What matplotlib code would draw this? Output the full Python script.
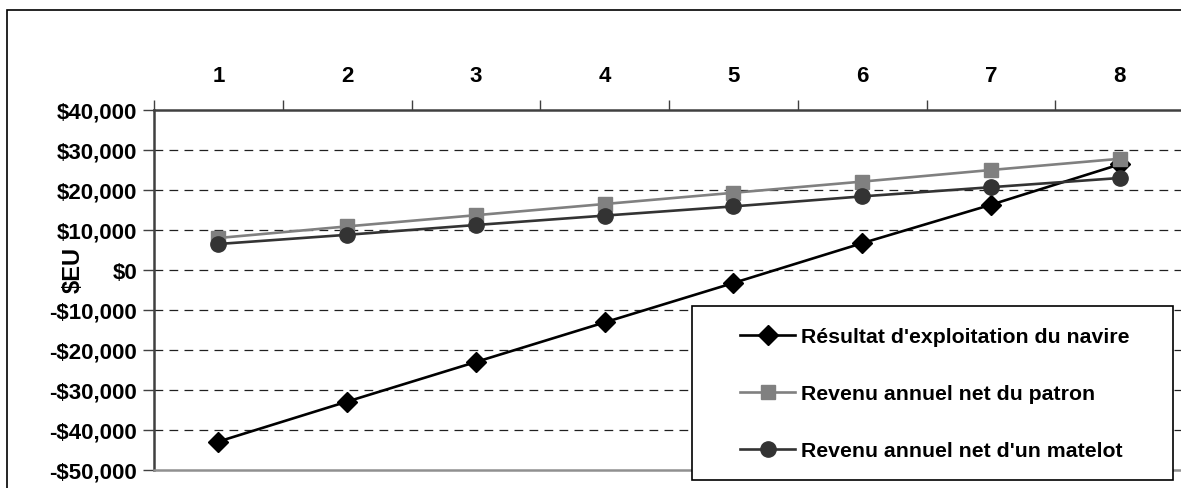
import matplotlib.pyplot as plt
from matplotlib.patches import Rectangle
from matplotlib.ticker import FuncFormatter

plt.rcParams['font.family'] = ['Liberation Sans', 'DejaVu Sans']
plt.rcParams['font.weight'] = 'bold'

# Données
annees = [1, 2, 3, 4, 5, 6, 7, 8]
resultat_navire = [-42900, -32900, -23000, -13100, -3250, 6700, 16300, 26400]
revenu_patron = [8000, 10900, 13700, 16500, 19300, 22100, 25000, 27800]
revenu_matelot = [6500, 8800, 11250, 13600, 15900, 18400, 20700, 23000]
labels = ["Résultat d'exploitation du navire",
          "Revenu annuel net du patron",
          "Revenu annuel net d'un matelot"]

W, H = 1181, 489
fig = plt.figure(figsize=(W / 100, H / 100), dpi=100)

# Zone de tracé (débordant à droite comme l'original recadré)
ax = fig.add_axes([154 / W, 1 - 471 / H, (1184 - 154) / W, (471 - 111) / H])

l1, = ax.plot(annees, resultat_navire, color='black', lw=1.9,
              marker='D', ms=10.5, mfc='black', mec='black', zorder=3)
l2, = ax.plot(annees, revenu_patron, color='#808080', lw=1.9,
              marker='s', ms=10.5, mfc='#808080', mec='#808080', zorder=4)
l3, = ax.plot(annees, revenu_matelot, color='#333333', lw=1.9,
              marker='o', ms=11, mfc='#333333', mec='#333333', zorder=5)

ax.set_xlim(0.5, 8.5)
ax.set_ylim(-50000, 40000)

# Axe X en haut
ax.xaxis.tick_top()
ax.set_xticks(annees)
ax.set_xticklabels([str(a) for a in annees])
ax.set_xticks([a - 0.5 for a in annees] + [8.5], minor=True)
ax.tick_params(axis='x', which='major', length=0, pad=17, labelsize=16)
ax.tick_params(axis='x', which='minor', length=7, width=1, color='#404040',
               direction='out', top=True, bottom=False)

# Axe Y
ax.set_yticks(range(-50000, 40001, 10000))
ax.yaxis.set_major_formatter(FuncFormatter(
    lambda v, p: ('-$' if v < 0 else '$') + f'{abs(v):,.0f}'))
ax.tick_params(axis='y', length=8, width=1, color='#404040', pad=4,
               labelsize=16)

for y in range(-40000, 40000, 10000):
    ax.axhline(y, color='#202020', lw=0.9, dashes=(7, 5), zorder=1)

ax.spines['top'].set_color('#404040')
ax.spines['top'].set_linewidth(1.8)
ax.spines['left'].set_color('#404040')
ax.spines['left'].set_linewidth(1.8)
ax.spines['bottom'].set_color('#909090')
ax.spines['bottom'].set_linewidth(1.8)
ax.spines['right'].set_visible(False)

fig.text(73 / W, 1 - 270 / H, '$EU', rotation=90, ha='center', va='center',
         fontsize=17, fontweight='bold')

# Cadre extérieur
fig.patches.append(Rectangle((7 / W, -0.1), 2, 1 - 11 / H + 0.1,
                             transform=fig.transFigure, fill=False,
                             edgecolor='black', lw=1.2, zorder=10))

# Légende
fig.patches.append(Rectangle((692 / W, 1 - 481 / H), (1173 - 692) / W,
                             (481 - 307) / H, transform=fig.transFigure,
                             facecolor='white', edgecolor='black', lw=1.2,
                             zorder=6))
leg = fig.legend([l1, l2, l3], labels, loc='upper left',
                 bbox_to_anchor=(740 / W, 1 - 328 / H),
                 bbox_transform=fig.transFigure, frameon=False,
                 borderpad=0, borderaxespad=0, handlelength=2.6,
                 handletextpad=0.25, labelspacing=1.8, fontsize=15.3)
leg.set_zorder(7)

fig.savefig('out.png', dpi=100)
